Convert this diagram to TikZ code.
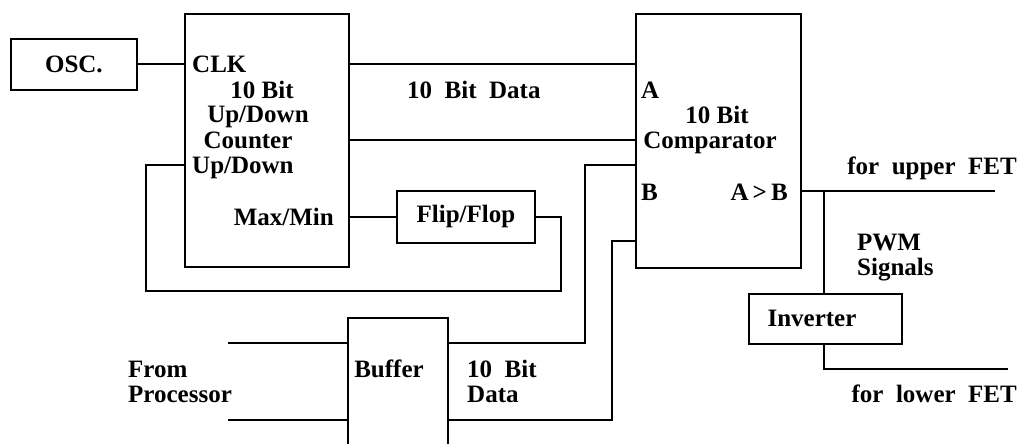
\documentclass[tikz,border=0pt]{standalone}
\usepackage{fontspec}
\setmainfont{Liberation Serif}
\usetikzlibrary{calc}

\begin{document}
\begin{tikzpicture}[x=1pt, y=-1pt,
  font=\fontsize{25}{25}\selectfont\bfseries,
  box/.style={draw, line width=1.8pt, inner sep=0pt, anchor=north west},
  wire/.style={line width=1.8pt},
  lbl/.style={inner sep=0pt}]
  \useasboundingbox (0,0) rectangle (1022,444);
  \clip (0,0) rectangle (1022,444);

  % blocks
  \node[box, minimum width=126pt, minimum height=51pt] (osc) at (10,38) {OSC.};
  \node[box, minimum width=164pt, minimum height=253pt] (counter) at (184,13) {};
  \node[box, minimum width=165pt, minimum height=254pt] (comp) at (635,13) {};
  \node[box, minimum width=138pt, minimum height=52pt] (ff) at (396,190) {Flip/Flop};
  \node[box, minimum width=100pt, minimum height=140pt] (buffer) at (347,317) {};
  \node[box, minimum width=153pt, minimum height=50pt] (inv) at (748,293) {};

  % texts in the counter
  \node[lbl, anchor=base west] (clk) at (192,72) {CLK};
  \node[lbl, anchor=base] (cntbit) at (262,98) {10~Bit};
  \node[lbl, anchor=base] (cntud) at (258,122) {Up/Down};
  \node[lbl, anchor=base] (cnt) at (248,148) {Counter};
  \node[lbl, anchor=base west] (updn) at (192,173) {Up/Down};
  \node[lbl, anchor=base east] (maxmin) at (334,225) {Max/Min};

  % texts in the comparator
  \node[lbl, anchor=base west] (ina) at (641,98) {A};
  \node[lbl, anchor=base] (cmpbit) at (717,123) {10~Bit};
  \node[lbl, anchor=base] (cmp) at (710,148) {Comparator};
  \node[lbl, anchor=base west] (inb) at (641,200) {B};
  \node[lbl, anchor=base east] (agtb) at (788,200) {A\,>\,B};

  % other texts
  \node[lbl, anchor=base] (buf) at (389,377) {Buffer};
  \node[lbl, anchor=base] (invtxt) at (812,326) {Inverter};
  \node[lbl, anchor=base west] (data1) at (407,98) {10~~Bit~~Data};
  \node[lbl, anchor=base west] (from) at (128,377) {From};
  \node[lbl, anchor=base west] (proc) at (128,402) {Processor};
  \node[lbl, anchor=base west] (data2) at (467,377) {10~~Bit};
  \node[lbl, anchor=base west] (data3) at (467,402) {Data};
  \node[lbl, anchor=base west] (pwm) at (857,250) {PWM};
  \node[lbl, anchor=base west] (sig) at (857,275) {Signals};
  \node[lbl, anchor=base east] (upper) at (1017,174) {for~~upper~~FET};
  \node[lbl, anchor=base east] (lower) at (1017,402) {for~~lower~~FET};

  % free ends
  \coordinate (in1) at (228,343);
  \coordinate (in2) at (228,420);
  \coordinate (upfet) at (995,191);
  \coordinate (lowfet) at (1008,369);
  \coordinate (loop) at (561,291);
  \coordinate (split) at (824,191);

  % connectors
  \draw[wire] (osc.east) -- (counter.west |- osc.east);
  \draw[wire] (counter.east |- osc.east) -- (comp.west |- osc.east);
  \draw[wire] (counter.east |- 0,140) -- (comp.west |- 0,140);
  \draw[wire] (counter.west |- 0,165) -- ++(-38,0) |- (loop) |- (ff.east);
  \draw[wire] (counter.east |- ff.west) -- (ff.west);
  \draw[wire] (comp.west |- 0,165) -- ++(-50,0) |- (buffer.east |- in1);
  \draw[wire] (comp.west |- 0,241) -- ++(-23,0) |- (buffer.east |- in2);
  \draw[wire] (in1) -- (buffer.west |- in1);
  \draw[wire] (in2) -- (buffer.west |- in2);
  \draw[wire] (comp.east |- upfet) -- (upfet);
  \draw[wire] (split) -- (split |- inv.north);
  \draw[wire] (split |- inv.south) |- (lowfet);
\end{tikzpicture}
\end{document}
